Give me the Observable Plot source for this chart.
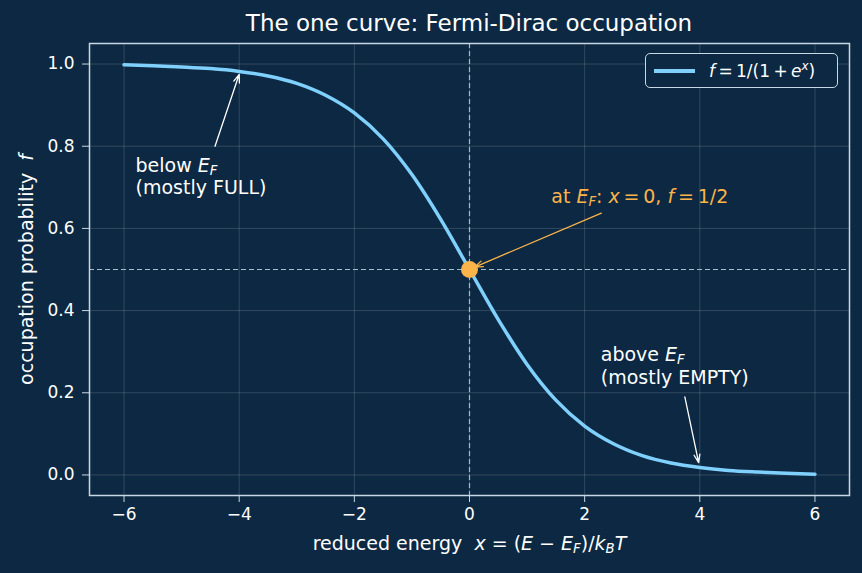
<!DOCTYPE html>
<html>
<head>
<meta charset="utf-8">
<script src="https://cdn.jsdelivr.net/npm/d3@7"></script>
<script src="https://cdn.jsdelivr.net/npm/@observablehq/plot@0.6"></script>
<style>
  html, body { margin: 0; padding: 0; background: #0c2842; }
  #wrap { position: relative; width: 862px; height: 573px; background: #0c2842; font-family: "DejaVu Sans", sans-serif; color: #fff; }
  #title { position: absolute; top: 10px; left: 89px; width: 760px; text-align: center; font-size: 23px; line-height: normal; color: #fff; }
  #plot { position: absolute; top: 40px; left: 0; }
  #legend { position: absolute; left: 645px; top: 53px; width: 193px; height: 35px; box-sizing: border-box;
            border: 1.5px solid #c8d8e4; border-radius: 5px; background: #0c2842; }
  #legend .swatch { position: absolute; left: 8px; top: 15px; width: 41px; height: 3.5px; background: #7fd0fc; }
  #legend .lab { position: absolute; left: 63px; top: 5px; font-size: 17px; white-space: nowrap; color: #fff; }
  #legend sup { font-size: 70%; }
</style>
</head>
<body>
<div id="wrap">
  <div id="title">The one curve: Fermi-Dirac occupation</div>
  <div id="plot"></div>
  <div id="legend"><div class="swatch"></div><div class="lab"><i>f</i>&#8201;=&#8201;1/(1&#8201;+&#8201;<i>e</i><sup><i>x</i></sup>)</div></div>
</div>
<script>
// ---- data ----
const energies = [-6, -5.5, -5, -4.5, -4, -3.5, -3, -2.5, -2, -1.5, -1, -0.5, 0, 0.5, 1, 1.5, 2, 2.5, 3, 3.5, 4, 4.5, 5, 5.5, 6];
const occupation = [0.998, 0.996, 0.993, 0.989, 0.982, 0.971, 0.953, 0.924, 0.881, 0.818, 0.731, 0.622, 0.500, 0.378, 0.269, 0.182, 0.119, 0.076, 0.047, 0.029, 0.018, 0.011, 0.007, 0.004, 0.002];
const xTicks = [-6, -4, -2, 0, 2, 4, 6];
const yTicks = [0.0, 0.2, 0.4, 0.6, 0.8, 1.0];
const fermiPoint = [{x: 0, y: 0.5}];
const whiteNotes = [
  {x: -5.8, y: 0.737, text: "below *E*_{F}"},
  {x: -5.8, y: 0.683, text: "(mostly FULL)"},
  {x: 2.28, y: 0.277, text: "above *E*_{F}"},
  {x: 2.28, y: 0.221, text: "(mostly EMPTY)"}
];
const orangeNotes = [{x: 1.42, y: 0.662, text: "at *E*_{F}: *x*\u2009=\u20090, *f*\u2009=\u20091/2"}];
const whiteArrows = [
  {x1: -4.42, y1: 0.80, x2: -4.0, y2: 0.975},
  {x1: 3.74, y1: 0.19, x2: 3.98, y2: 0.03}
];
const orangeArrows = [{x1: 2.29, y1: 0.637, x2: 0.09, y2: 0.506}];
const xLabel = "reduced energy  *x* = (*E* − *E*_{F})/*k*_{B}*T*";
const yLabel = "occupation probability  *f*";

const curveColor = "#7fd0fc";
const orange = "#fbb44a";
const frameColor = "#c8d8e4";

const curve = energies.map((x, i) => ({x, y: occupation[i]}));

const chart = Plot.plot({
  width: 862,
  height: 533,
  marginLeft: 89,
  marginRight: 13,
  marginTop: 3,
  marginBottom: 78,
  style: {background: "#0c2842", color: "#fff", fontFamily: "DejaVu Sans, sans-serif", fontSize: "17px"},
  x: {domain: [-6.6, 6.6]},
  y: {domain: [-0.05, 1.05]},
  marks: [
    Plot.gridX(xTicks, {stroke: "#ffffff", strokeOpacity: 0.2, strokeWidth: 0.8}),
    Plot.gridY(yTicks, {stroke: "#ffffff", strokeOpacity: 0.2, strokeWidth: 0.8}),
    Plot.ruleX([0], {stroke: "#a3bbd0", strokeWidth: 1.2, strokeDasharray: "5,3"}),
    Plot.ruleY([0.5], {stroke: "#a3bbd0", strokeWidth: 1.2, strokeDasharray: "5,3"}),
    Plot.line(curve, {x: "x", y: "y", stroke: curveColor, strokeWidth: 3.5, curve: "monotone-x"}),
    Plot.dot(fermiPoint, {x: "x", y: "y", r: 8.5, fill: orange, stroke: "none"}),
    Plot.arrow(whiteArrows, {x1: "x1", y1: "y1", x2: "x2", y2: "y2", stroke: "#fff", strokeWidth: 1.3, headLength: 10, headAngle: 40}),
    Plot.arrow(orangeArrows, {x1: "x1", y1: "y1", x2: "x2", y2: "y2", stroke: orange, strokeWidth: 1.3, headLength: 10, headAngle: 40}),
    Plot.text(whiteNotes, {x: "x", y: "y", text: "text", textAnchor: "start", lineAnchor: "bottom", fill: "#fff", fontSize: 19}),
    Plot.text(orangeNotes, {x: "x", y: "y", text: "text", textAnchor: "start", lineAnchor: "bottom", fill: orange, fontSize: 19}),
    Plot.frame({stroke: frameColor, strokeWidth: 1.5}),
    Plot.axisX({ticks: xTicks, tickSize: 7, tickPadding: 5, tickFormat: d3.format("d"), stroke: frameColor, fill: "#fff", fontSize: 17, label: null}),
    Plot.axisY({ticks: yTicks, tickSize: 7, tickPadding: 8, tickFormat: d3.format(".1f"), stroke: frameColor, fill: "#fff", fontSize: 17, label: null}),
    Plot.text([xLabel], {text: d => d, frameAnchor: "bottom", textAnchor: "middle", dy: 54, fill: "#fff", fontSize: 19}),
    Plot.text([yLabel], {text: d => d, frameAnchor: "left", textAnchor: "middle", lineAnchor: "middle", rotate: -90, dx: -63, fill: "#fff", fontSize: 19})
  ]
});

// turn simple markup (*italic*, _{sub}, ^{sup}) into real SVG tspans
const SVGNS = "http://www.w3.org/2000/svg";
function rich(el, s) {
  el.textContent = "";
  const re = /\*([^*]+)\*|_\{([^}]+)\}|\^\{([^}]+)\}|([^*_^]+)/g;
  let m;
  while ((m = re.exec(s))) {
    const t = document.createElementNS(SVGNS, "tspan");
    if (m[1]) { t.textContent = m[1]; t.setAttribute("font-style", "italic"); }
    else if (m[2]) { t.textContent = m[2]; t.setAttribute("font-style", "italic"); t.setAttribute("font-size", "70%"); t.setAttribute("baseline-shift", "-20%"); }
    else if (m[3]) { t.textContent = m[3]; t.setAttribute("font-style", "italic"); t.setAttribute("font-size", "70%"); t.setAttribute("baseline-shift", "40%"); }
    else t.textContent = m[4];
    el.appendChild(t);
  }
}
d3.select(chart).selectAll("text").each(function () {
  const s = this.textContent;
  if (/\*|_\{|\^\{/.test(s)) rich(this, s);
});

document.getElementById("plot").appendChild(chart);
</script>
</body>
</html>
